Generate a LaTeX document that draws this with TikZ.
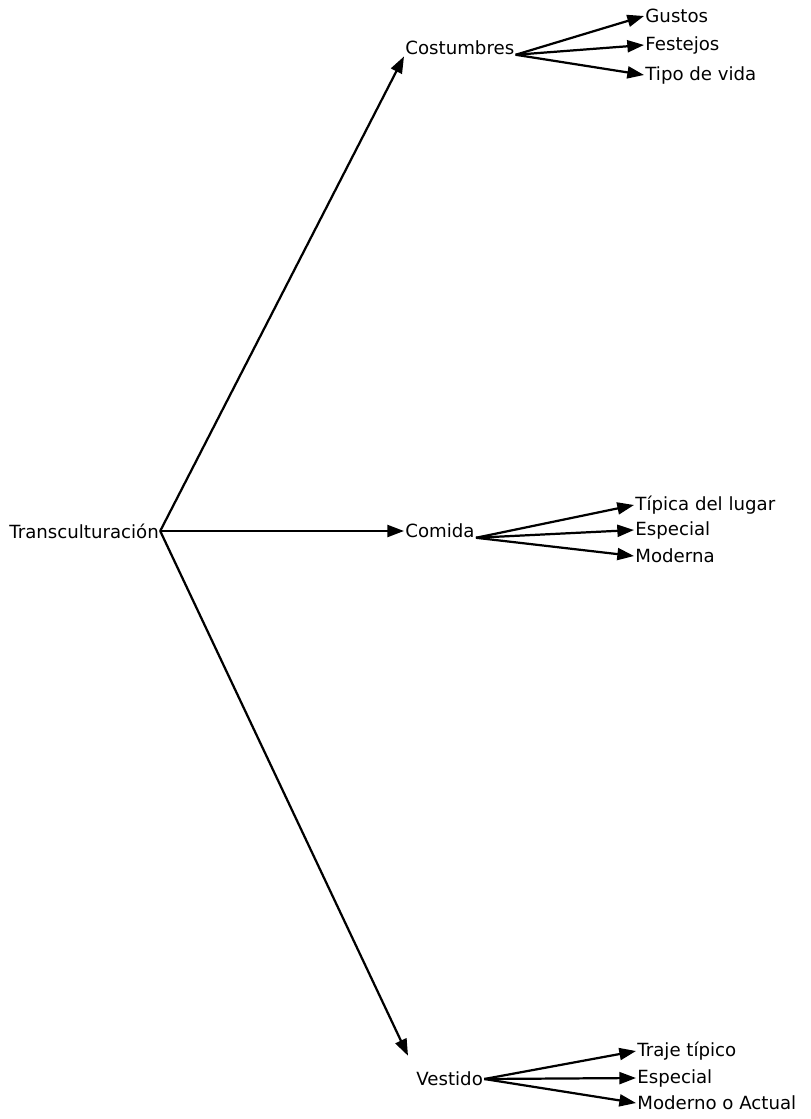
\documentclass[tikz,border=0pt]{standalone}
\usepackage{fontspec}
\setmainfont{DejaVu Sans}
\usetikzlibrary{arrows.meta}
\tikzset{flecha/.style={line width=1.9pt,-{Triangle[length=5mm,width=3.6mm]}},
	texto/.style={inner sep=1pt,anchor=west,font=\fontsize{15.5}{17}\selectfont}}
\begin{document}
\begin{tikzpicture}[x=0.03cm,y=-0.03cm]
	\useasboundingbox (0,0) rectangle (810,1119);
	\node[texto] (trans) at (8,531) {Transculturación};
	\node[texto] (cost) at (404,48) {Costumbres};
	\node[texto] (comida) at (404,531) {Comida};
	\node[texto] (vest) at (415,1079) {Vestido};
	\draw[flecha] (trans.east) -- (cost.south west);
	\draw[flecha] (trans.east) -- (comida.west);
	\draw[flecha,shorten >=14] (trans.east) -- (vest.north west);
	%% costumbres
	\node[texto] (gustos) at (644,16) {Gustos};
	\node[texto] (festejos) at (644,45) {Festejos};
	\node[texto] (tipo) at (644,75) {Tipo de vida};
	\foreach \h in {gustos,festejos,tipo}
		\draw[flecha] (cost.base east) -- (\h.west);
	%% comida
	\node[texto] (tipica) at (634,505) {Típica del lugar};
	\node[texto] (espc) at (634,530) {Especial};
	\node[texto] (moderna) at (634,556) {Moderna};
	\foreach \h in {tipica,espc,moderna}
		\draw[flecha] (comida.base east) -- (\h.west);
	%% vestido
	\node[texto] (traje) at (636,1051) {Traje típico};
	\node[texto] (espv) at (636,1078) {Especial};
	\node[texto] (modact) at (636,1103) {Moderno o Actual};
	\foreach \h in {traje,espv,modact}
		\draw[flecha] (vest.east) -- (\h.west);
\end{tikzpicture}
\end{document}
